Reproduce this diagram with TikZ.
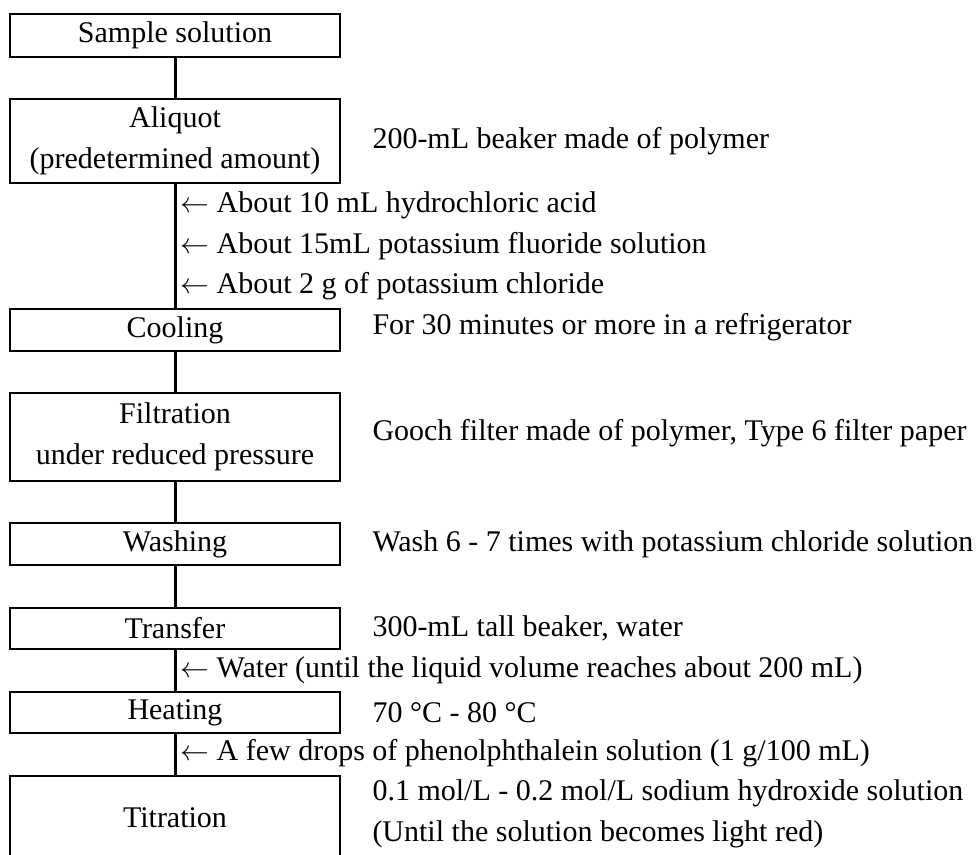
\documentclass[tikz,border=0pt]{standalone}
\usepackage{fontspec}
\setmainfont{Liberation Serif}
\usetikzlibrary{positioning}

\begin{document}
\begin{tikzpicture}[x=0.5pt, y=-0.5pt,
  stepbox/.style={draw=black, line width=1.1pt, minimum width=165pt, inner sep=0pt,
    align=center, font=\fontsize{15}{20.5}\selectfont},
  note/.style={inner sep=0pt, align=left, font=\fontsize{15}{20.5}\selectfont},
  addnote/.style={note, anchor=west},
  link/.style={line width=1.5pt}]

\useasboundingbox (0,0) rectangle (976,855);
\clip (0,0) rectangle (976,855);

% Step 1
\node[stepbox, minimum height=21.5pt] (s1) at (175,35.5) {Sample solution};

% Step 2
\node[stepbox, minimum height=42pt] (s2) at (175,141) {Aliquot\\(predetermined amount)};
\node[note, right=15.5pt of s2] (n2) {200-mL beaker made of polymer};
\node[addnote] (a1) at (180,205) {$\leftarrow$ About 10 mL hydrochloric acid};
\node[addnote] (a2) at (180,246) {$\leftarrow$ About 15mL potassium fluoride solution};
\node[addnote] (a3) at (180,286) {$\leftarrow$ About 2 g of potassium chloride};

% Step 3
\node[stepbox, minimum height=21pt] (s3) at (175,330) {Cooling};
\node[note, right=15.5pt of s3, yshift=1.5pt] (n3) {For 30 minutes or more in a refrigerator};

% Step 4
\node[stepbox, minimum height=44pt] (s4) at (175,437) {Filtration\\under reduced pressure};
\node[note, right=15.5pt of s4, yshift=2pt] (n4) {Gooch filter made of polymer, Type 6 filter paper};

% Step 5
\node[stepbox, minimum height=21pt] (s5) at (175,544) {Washing};
\node[note, right=15.5pt of s5] (n5) {Wash 6 - 7 times with potassium chloride solution};

% Step 6
\node[stepbox, minimum height=20.5pt] (s6) at (175,628.5) {Transfer};
\node[note, right=15.5pt of s6] (n6) {300-mL tall beaker, water};
\node[addnote] (a4) at (180,670) {$\leftarrow$ Water (until the liquid volume reaches about 200 mL)};

% Step 7
\node[stepbox, minimum height=20.5pt] (s7) at (175,712.5) {Heating};
\node[note, right=15.5pt of s7] (n7) {70~°C - 80~°C};
\node[addnote] (a5) at (180,753) {$\leftarrow$ A few drops of phenolphthalein solution (1 g/100 mL)};

% Step 8
\node[stepbox, minimum height=42pt] (s8) at (175,818) {Titration};
\node[note, right=15.5pt of s8, yshift=2pt] (n8) {0.1 mol/L - 0.2 mol/L sodium hydroxide solution\\(Until the solution becomes light red)};

% Links
\draw[link] (s1.south) -- (s2.north);
\draw[link] (s2.south) -- (s3.north);
\draw[link] (s3.south) -- (s4.north);
\draw[link] (s4.south) -- (s5.north);
\draw[link] (s5.south) -- (s6.north);
\draw[link] (s6.south) -- (s7.north);
\draw[link] (s7.south) -- (s8.north);

\end{tikzpicture}
\end{document}
